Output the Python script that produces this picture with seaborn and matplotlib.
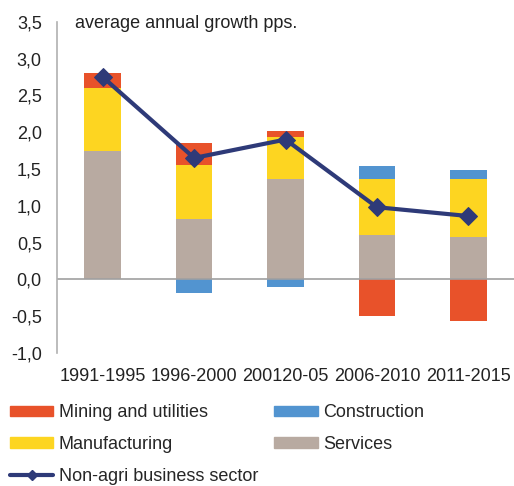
import numpy as np
import matplotlib
matplotlib.use('Agg')
import matplotlib.pyplot as plt
from matplotlib.patches import Patch
from matplotlib.lines import Line2D
from matplotlib.ticker import FuncFormatter
import seaborn as sns

# Data
periods = ['1991-1995', '1996-2000', '200120-05', '2006-2010', '2011-2015']
services = [1.75, 0.82, 1.37, 0.60, 0.58]
manufacturing = [0.85, 0.73, 0.57, 0.76, 0.79]
mining = [0.20, 0.30, 0.07, -0.50, -0.57]
construction = [0.00, -0.18, -0.10, 0.18, 0.12]
non_agri = [2.75, 1.65, 1.90, 0.98, 0.86]

colors = {
    'Mining and utilities': '#E8522A',
    'Construction': '#5294D0',
    'Manufacturing': '#FDD521',
    'Services': '#B8AAA1',
}
line_color = '#2E3A78'

sns.set_style('white')
plt.rcParams['font.family'] = ['Liberation Sans', 'DejaVu Sans']
plt.rcParams['font.size'] = 13

fig = plt.figure(figsize=(5.14, 4.86), dpi=100)
ax = fig.add_axes([0.111, 0.274, 0.889, 0.681])

# stacked bars: positives stack upward, negatives downward
series = [('Services', services), ('Manufacturing', manufacturing),
          ('Construction', construction), ('Mining and utilities', mining)]
pos_base = np.zeros(len(periods))
neg_base = np.zeros(len(periods))
for name, vals in series:
    vals = np.array(vals, dtype=float)
    bottom = np.where(vals >= 0, pos_base, neg_base)
    sns.barplot(x=periods, y=vals, bottom=bottom, color=colors[name],
                width=0.4, saturation=1, edgecolor='none', ax=ax)
    pos_base = pos_base + np.clip(vals, 0, None)
    neg_base = neg_base + np.clip(vals, None, 0)

sns.lineplot(x=periods, y=non_agri, color=line_color, linewidth=3,
             marker='D', markersize=9, markeredgecolor=line_color, ax=ax, sort=False)

ax.axhline(0, color='#A0A0A0', linewidth=1.2, zorder=1)
ax.set_ylim(-1.0, 3.5)
ax.set_xlim(-0.5, 4.5)
ax.set_yticks(np.arange(-1.0, 3.51, 0.5))
ax.yaxis.set_major_formatter(FuncFormatter(lambda v, p: f'{v:.1f}'.replace('.', ',')))
ax.tick_params(axis='both', length=0, labelsize=13, colors='#222222')
ax.tick_params(axis='y', pad=11)
ax.tick_params(axis='x', pad=11)
ax.set_xlabel('')
ax.set_ylabel('')
for side in ['top', 'right', 'bottom']:
    ax.spines[side].set_visible(False)
ax.spines['left'].set_color('#B0B0B0')
ax.spines['left'].set_linewidth(1.2)

ax.text(0.04, 0.995, 'average annual growth pps.', transform=ax.transAxes,
        ha='left', va='center', fontsize=13, color='#222222')

handles = [
    Patch(color=colors['Mining and utilities'], label='Mining and utilities'),
    Patch(color=colors['Manufacturing'], label='Manufacturing'),
    Line2D([0], [0], color=line_color, linewidth=3, marker='D', markersize=5,
           label='Non-agri business sector'),
    Patch(color=colors['Construction'], label='Construction'),
    Patch(color=colors['Services'], label='Services'),
]
fig.legend(handles=handles, ncol=2, loc='upper left', bbox_to_anchor=(0.0195, 0.168),
           frameon=False, fontsize=13, handlelength=2.4, handleheight=0.55,
           handletextpad=0.3, labelspacing=0.82, columnspacing=0.9,
           borderaxespad=0, borderpad=0)

fig.savefig('out.png', dpi=100)
